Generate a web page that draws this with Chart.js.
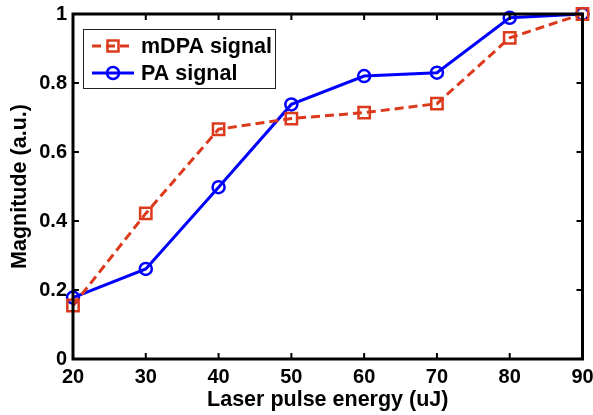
<!DOCTYPE html>
<html>
<head>
<meta charset="utf-8">
<script src="https://cdn.jsdelivr.net/npm/chart.js@4/dist/chart.umd.min.js"></script>
<style>
  html, body { margin: 0; padding: 0; background: #fff; }
  #wrap { width: 593px; height: 415px; }
</style>
</head>
<body>
<div id="wrap"><canvas id="grafico"></canvas></div>
<script>
// dados
const energias = [20, 30, 40, 50, 60, 70, 80, 90];
const sinalMDPA = [0.155, 0.422, 0.666, 0.697, 0.714, 0.740, 0.931, 1.0];
const sinalPA = [0.178, 0.261, 0.498, 0.738, 0.820, 0.830, 0.989, 1.0];
const ticksX = [20, 30, 40, 50, 60, 70, 80, 90];
const ticksY = [0, 0.2, 0.4, 0.6, 0.8, 1];

const VERMELHO = '#dc3a1c';
const AZUL = '#0000ff';
const FONTE = "'Liberation Sans', Arial, sans-serif";

// moldura estilo matlab, com ticks para dentro
const molduraPlugin = {
  id: 'moldura',
  afterDraw(chart) {
    const ctx = chart.ctx;
    const a = chart.chartArea;
    const sx = chart.scales.x, sy = chart.scales.y;
    ctx.save();
    ctx.strokeStyle = '#000';
    ctx.lineWidth = 3;
    ctx.strokeRect(a.left, a.top, a.right - a.left, a.bottom - a.top);
    ctx.lineWidth = 2;
    const t = 6;
    ticksX.forEach(v => {
      const px = sx.getPixelForValue(v);
      ctx.beginPath();
      ctx.moveTo(px, a.bottom); ctx.lineTo(px, a.bottom - t);
      ctx.moveTo(px, a.top); ctx.lineTo(px, a.top + t);
      ctx.stroke();
    });
    ticksY.forEach(v => {
      const py = sy.getPixelForValue(v);
      ctx.beginPath();
      ctx.moveTo(a.left, py); ctx.lineTo(a.left + t, py);
      ctx.moveTo(a.right, py); ctx.lineTo(a.right - t, py);
      ctx.stroke();
    });

    // legenda
    const bx = 83, by = 29, bw = 192, bh = 59;
    ctx.fillStyle = '#fff';
    ctx.fillRect(bx, by, bw, bh);
    ctx.lineWidth = 1;
    ctx.strokeStyle = '#222';
    ctx.strokeRect(bx + 0.5, by + 0.5, bw, bh);
    const linhas = [46, 73];
    chart.data.datasets.forEach((ds, i) => {
      const y = linhas[i];
      ctx.strokeStyle = ds.borderColor;
      ctx.lineWidth = 3;
      ctx.setLineDash(ds.borderDash || []);
      ctx.beginPath();
      ctx.moveTo(92, y); ctx.lineTo(134, y);
      ctx.stroke();
      ctx.setLineDash([]);
      ctx.lineWidth = 2.5;
      if (ds.pointStyle === 'rect') {
        ctx.strokeRect(107.5, y - 5.5, 11, 11);
      } else {
        ctx.beginPath();
        ctx.arc(113, y, 6, 0, Math.PI * 2);
        ctx.stroke();
      }
      ctx.fillStyle = '#000';
      ctx.font = 'bold 21.5px ' + FONTE;
      ctx.textBaseline = 'middle';
      ctx.textAlign = 'left';
      ctx.fillText(ds.label, 141, y + 1);
    });
    ctx.restore();
  }
};

const ctx = document.getElementById('grafico').getContext('2d');
window.grafico = new Chart(ctx, {
  type: 'line',
  data: {
    datasets: [{
      label: 'mDPA signal',
      data: energias.map((e, i) => ({ x: e, y: sinalMDPA[i] })),
      borderColor: VERMELHO,
      borderWidth: 3,
      borderDash: [9, 5],
      pointStyle: 'rect',
      pointRadius: 8,
      pointBorderWidth: 2.5,
      pointBorderColor: VERMELHO,
      pointBackgroundColor: 'rgba(0,0,0,0)',
      fill: false,
      clip: false,
      tension: 0
    }, {
      label: 'PA signal',
      data: energias.map((e, i) => ({ x: e, y: sinalPA[i] })),
      borderColor: AZUL,
      borderWidth: 3,
      pointStyle: 'circle',
      pointRadius: 6,
      pointBorderWidth: 2.5,
      pointBorderColor: AZUL,
      pointBackgroundColor: 'rgba(0,0,0,0)',
      fill: false,
      clip: false,
      tension: 0
    }]
  },
  options: {
    responsive: true,
    maintainAspectRatio: false,
    animation: false,
    layout: { padding: { top: 14, right: 10, left: 0, bottom: 0 } },
    plugins: {
      legend: { display: false },
      tooltip: { enabled: false }
    },
    scales: {
      x: {
        type: 'linear',
        min: 20,
        max: 90,
        grid: { display: false, drawTicks: false },
        border: { display: false },
        afterBuildTicks: s => { s.ticks = ticksX.map(v => ({ value: v })); },
        afterFit: s => { s.height = 56; s.paddingLeft = 0; s.paddingRight = 0; },
        ticks: {
          padding: 6,
          color: '#000',
          font: { family: FONTE, size: 20, weight: 'bold' },
          maxRotation: 0
        },
        title: {
          display: true,
          text: 'Laser pulse energy (uJ)',
          color: '#000',
          font: { family: FONTE, size: 21.5, weight: 'bold' },
          padding: { top: 0, bottom: 2 }
        }
      },
      y: {
        min: 0,
        max: 1,
        grid: { display: false, drawTicks: false },
        border: { display: false },
        afterBuildTicks: s => { s.ticks = ticksY.map(v => ({ value: v })); },
        afterFit: s => { s.width = 73; s.paddingTop = 0; s.paddingBottom = 0; },
        ticks: {
          padding: 6,
          color: '#000',
          font: { family: FONTE, size: 20, weight: 'bold' },
          callback: v => String(v)
        },
        title: {
          display: true,
          text: 'Magnitude (a.u.)',
          color: '#000',
          font: { family: FONTE, size: 21.5, weight: 'bold' },
          padding: { top: 7, bottom: 0 }
        }
      }
    }
  },
  plugins: [molduraPlugin]
});
</script>
</body>
</html>
